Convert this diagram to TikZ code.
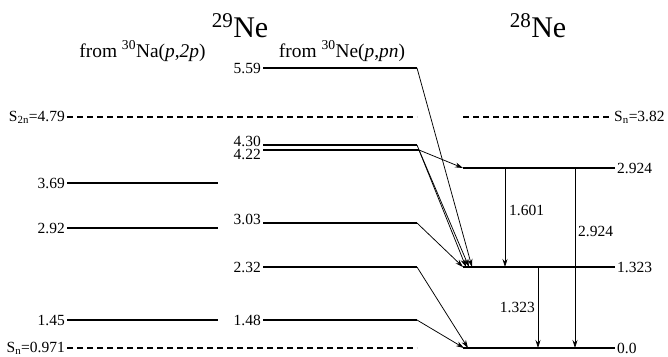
\documentclass[tikz,border=0pt]{standalone}
\usepackage{fontspec}
\setmainfont{Liberation Serif}
\usetikzlibrary{arrows.meta,calc}
\begin{document}
\begin{tikzpicture}[x=1pt,y=-1pt,
  level/.style={line width=1.4pt},
  sepline/.style={line width=1.1pt, dash pattern=on 6pt off 4pt},
  trans/.style={line width=0.75pt,-{Stealth[length=8pt,width=5pt]}},
  gam/.style={line width=0.75pt,-{Stealth[length=8pt,width=5pt]}},
  lbl/.style={font=\fontsize{15.5}{16}\selectfont, inner sep=2pt},
  tight/.style={inner ysep=0pt},
  title/.style={font=\fontsize{30}{32}\selectfont, inner sep=0pt, anchor=base},
  sub/.style={font=\fontsize{19.4}{21}\selectfont, inner sep=0pt, anchor=base}]
\useasboundingbox (0,0) rectangle (668,356);
% titles
\node[title] (t29) at (240,37) {\textsuperscript{29}Ne};
\node[title] (t28) at (538,37) {\textsuperscript{28}Ne};
\node[sub] (f1) at (142.5,57) {from \textsuperscript{30}Na(\textit{p},\textit{2p})};
\node[sub] (f2) at (342,57) {from \textsuperscript{30}Ne(\textit{p},\textit{pn})};
% 29Ne (p,2p) levels
\coordinate (a369l) at (67,183); \coordinate (a369r) at (218,183);
\coordinate (a292l) at (67,228); \coordinate (a292r) at (218,228);
\coordinate (a145l) at (67,320); \coordinate (a145r) at (218,320);
\draw[level] (a369l) -- (a369r);
\draw[level] (a292l) -- (a292r);
\draw[level] (a145l) -- (a145r);
\node[lbl,anchor=east] at (a369l) {3.69};
\node[lbl,anchor=east] at (a292l) {2.92};
\node[lbl,anchor=east] at (a145l) {1.45};
% separation energies (29Ne)
\coordinate (s2nl) at (67,117); \coordinate (s2nr) at (417,117);
\coordinate (snl) at (67,348); \coordinate (snr) at (417,348);
\draw[sepline] (s2nl) -- (s2nr);
\draw[sepline] (snl) -- (snr);
\node[lbl,anchor=east] at (s2nl) {S\textsubscript{2n}=4.79};
\node[lbl,anchor=east] at (snl) {S\textsubscript{n}=0.971};
% 29Ne (p,pn) levels
\coordinate (b559l) at (263,68); \coordinate (b559r) at (417,68);
\coordinate (b430l) at (263,145); \coordinate (b430r) at (417,145);
\coordinate (b422l) at (263,150); \coordinate (b422r) at (419,150);
\coordinate (b303l) at (263,223); \coordinate (b303r) at (417,223);
\coordinate (b232l) at (263,267); \coordinate (b232r) at (417,267);
\coordinate (b148l) at (263,320); \coordinate (b148r) at (417,320);
\draw[level] (b559l) -- (b559r);
\draw[level] (b430l) -- (b430r);
\draw[level] (b422l) -- (b422r);
\draw[level] (b303l) -- (b303r);
\draw[level] (b232l) -- (b232r);
\draw[level] (b148l) -- (b148r);
\node[lbl,anchor=east] at (b559l) {5.59};
\node[lbl,tight,anchor=east] at ($(b430l)+(0,-4)$) {4.30};
\node[lbl,tight,anchor=east] at ($(b422l)+(0,4.5)$) {4.22};
\node[lbl,anchor=east] at ($(b303l)+(0,-4)$) {3.03};
\node[lbl,anchor=east] at (b232l) {2.32};
\node[lbl,anchor=east] at (b148l) {1.48};
% 28Ne levels
\coordinate (c2924l) at (463,168); \coordinate (c2924r) at (615,168);
\coordinate (c1323l) at (463,267); \coordinate (c1323r) at (615,267);
\coordinate (c0l) at (463,348); \coordinate (c0r) at (615,348);
\coordinate (csnl) at (463,117); \coordinate (csnr) at (612,117);
\draw[level] (c2924l) -- (c2924r);
\draw[level] (c1323l) -- (c1323r);
\draw[level] (c0l) -- (c0r);
\draw[sepline] (csnl) -- (csnr);
\node[lbl,anchor=west] at (c2924r) {2.924};
\node[lbl,anchor=west] at (c1323r) {1.323};
\node[lbl,anchor=west] at (c0r) {0.0};
\node[lbl,anchor=west] at (csnr) {S\textsubscript{n}=3.82};
% feeding transitions
\coordinate (e303) at (463,267);
\coordinate (e430) at (466,267);
\coordinate (e422) at (469,267);
\coordinate (e559) at (472,267);
\coordinate (e148) at (464,348);
\coordinate (e232) at (468,348);
\draw[trans] (b559r) -- (e559);
\draw[trans] (b430r) -- (e430);
\draw[trans] (b422r) -- (e422);
\draw[trans] (b422r) -- (c2924l);
\draw[trans] (b303r) -- (e303);
\draw[trans] (b232r) -- (e232);
\draw[trans] (b148r) -- (e148);
% gamma transitions
\coordinate (g1t) at (505,168); \coordinate (g1b) at (505,267);
\coordinate (g2t) at (575,168); \coordinate (g2b) at (575,348);
\coordinate (g3t) at (538,267); \coordinate (g3b) at (538,348);
\draw[gam] (g1t) -- (g1b);
\draw[gam] (g2t) -- (g2b);
\draw[gam] (g3t) -- (g3b);
\node[lbl,anchor=west] at (507,210) {1.601};
\node[lbl,anchor=west] at (576,231) {2.924};
\node[lbl,anchor=east] at (537,307) {1.323};
\end{tikzpicture}
\end{document}
